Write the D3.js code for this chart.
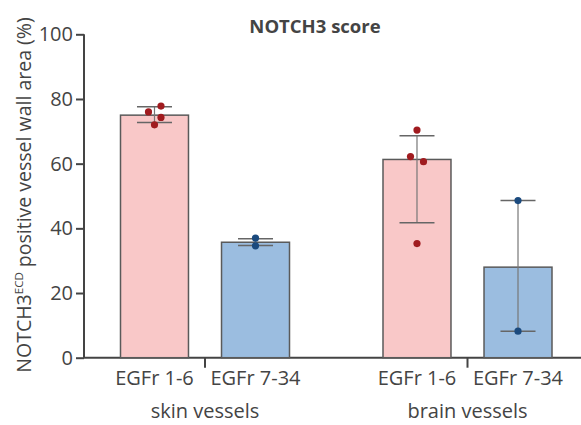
<!DOCTYPE html>
<html>
<head>
<meta charset="utf-8">
<title>NOTCH3 score</title>
<style>
  body { margin: 0; background: #fff; }
  text { font-family: "Open Sans", sans-serif; fill: #444; }
</style>
</head>
<body>
<script src="https://cdn.jsdelivr.net/npm/d3@7"></script>
<script>
// data
var groups = ['skin vessels', 'brain vessels'];
var subgroups = ['EGFr 1-6', 'EGFr 7-34'];
var barValues = [[75.0, 35.7], [61.3, 28.0]];
var errLow = [[72.7, 34.7], [41.7, 8.2]];
var errHigh = [[77.6, 36.8], [68.6, 48.6]];
var points = [
  [[76.0, 77.8, 74.3, 72.0], [37.0, 34.6]],
  [[70.4, 62.2, 60.6, 35.3], [48.6, 8.2]]
];
var jitter = [
  [[-6, 6.5, 6.5, 0], [0, 0]],
  [[0, -6.5, 6.5, 0], [0, 0]]
];
var yTicks = [0, 20, 40, 60, 80, 100];

var fills = ['#f9c8c8', '#9bbde0'];
var dots = ['#a01b1f', '#1b4a7e'];

var W = 581, H = 425;
var svg = d3.select('body').append('svg').attr('width', W).attr('height', H);

var y = d3.scaleLinear().domain([0, 100]).range([357.7, 34.3]);
var gx = d3.scalePoint().domain(groups).range([205, 467.5]);
var sx = d3.scaleBand().domain(subgroups).range([-84.5, 84.5]).paddingInner(0.327);

// title
svg.append('text')
  .attr('x', 315).attr('y', 33)
  .attr('text-anchor', 'middle')
  .style('font-size', '18.5px').style('font-weight', 'bold')
  .text('NOTCH3 score');

// y axis
var yAxis = svg.append('g')
  .attr('transform', 'translate(84,0)')
  .call(d3.axisLeft(y).tickValues(yTicks).tickSize(8).tickPadding(3));
yAxis.select('.domain').attr('stroke', '#444').attr('stroke-width', 2).attr('d', 'M0,' + y(100) + 'V' + y(0));
yAxis.selectAll('.tick line').attr('stroke', '#444').attr('stroke-width', 2);
yAxis.selectAll('.tick text').style('font-size', '20px').attr('fill', '#444').style('font-family', '"Open Sans", sans-serif');

// x axis
svg.append('line')
  .attr('x1', 83).attr('x2', 581).attr('y1', y(0)).attr('y2', y(0))
  .attr('stroke', '#444').attr('stroke-width', 2);
svg.selectAll('.gtick').data(groups).enter().append('line')
  .attr('x1', function(d){ return gx(d); }).attr('x2', function(d){ return gx(d); })
  .attr('y1', y(0)).attr('y2', y(0) + 10)
  .attr('stroke', '#444').attr('stroke-width', 2);

// y label
var yl = svg.append('text')
  .attr('transform', 'translate(31,195) rotate(-90)')
  .attr('text-anchor', 'middle')
  .style('font-size', '19.5px');
yl.append('tspan').text('NOTCH3');
yl.append('tspan').attr('dy', -8).style('font-size', '11.5px').text('ECD');
yl.append('tspan').attr('dy', 8).text(' positive vessel wall area (%)');

groups.forEach(function(g, gi) {
  var cx0 = gx(g);
  var grp = svg.append('g');

  subgroups.forEach(function(s, si) {
    var x0 = cx0 + sx(s);
    var cx = x0 + sx.bandwidth() / 2;

    grp.append('rect')
      .attr('x', x0).attr('y', y(barValues[gi][si]))
      .attr('width', sx.bandwidth())
      .attr('height', y(0) - y(barValues[gi][si]))
      .attr('fill', fills[si])
      .attr('stroke', '#5a5a5a').attr('stroke-width', 1.5);

    // error bar
    grp.append('line')
      .attr('x1', cx).attr('x2', cx)
      .attr('y1', y(errLow[gi][si])).attr('y2', y(errHigh[gi][si]))
      .attr('stroke', '#777').attr('stroke-width', 1.2);
    [errLow[gi][si], errHigh[gi][si]].forEach(function(v) {
      grp.append('line')
        .attr('x1', cx - 17.5).attr('x2', cx + 17.5)
        .attr('y1', y(v)).attr('y2', y(v))
        .attr('stroke', '#666').attr('stroke-width', 1.5);
    });

    grp.selectAll('.pt' + si).data(points[gi][si]).enter().append('circle')
      .attr('cx', function(d, i){ return cx + jitter[gi][si][i]; })
      .attr('cy', function(d){ return y(d); })
      .attr('r', 3.6)
      .attr('fill', dots[si]);

    grp.append('text')
      .attr('x', cx).attr('y', 385)
      .attr('text-anchor', 'middle')
      .style('font-size', '20px')
      .text(s);
  });

  grp.append('text')
    .attr('x', cx0).attr('y', 418)
    .attr('text-anchor', 'middle')
    .style('font-size', '20px')
    .text(g);
});
</script>
</body>
</html>
